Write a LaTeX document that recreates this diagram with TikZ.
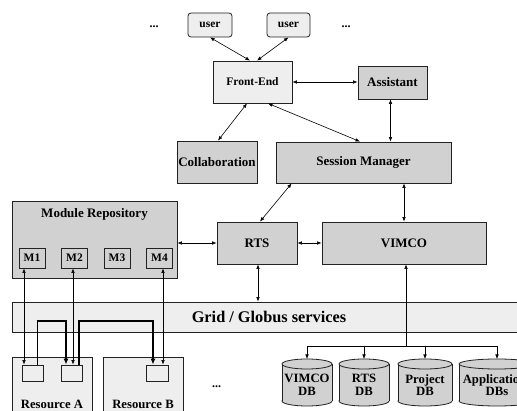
\documentclass[tikz,border=0pt]{standalone}
\usepackage{fontspec}
\setmainfont{Liberation Serif}
\usetikzlibrary{arrows.meta,calc}
\definecolor{lightfill}{HTML}{EEEEEE}
\definecolor{grayfill}{HTML}{D1D1D1}
\definecolor{edge}{HTML}{222222}
\newcommand{\fs}[1]{\fontsize{#1}{#1}\selectfont\bfseries}
\tikzset{
  boxbase/.style={draw=edge, line width=0.8pt, inner sep=0pt, align=center},
  lightbox/.style={boxbase, fill=lightfill},
  graybox/.style={boxbase, fill=grayfill},
  bigfont/.style={font=\fs{13}},
  smallfont/.style={font=\fs{11.5}},
  plaintext/.style={inner sep=0pt, align=center},
  arr/.style={{Latex[length=4.5pt,width=3.6pt]}-{Latex[length=4.5pt,width=3.6pt]}, line width=0.6pt, draw=black},
  onearr/.style={-{Latex[length=4.5pt,width=3.6pt]}, line width=0.6pt, draw=black},
  thin/.style={line width=0.6pt, draw=black},
  thickarr/.style={-{Latex[length=6pt,width=5pt]}, line width=1.6pt, draw=black},
  dbtext/.style={plaintext, font=\fs{12.7}, text depth=0pt},
}
\newcommand{\dbcyl}[3]{% cx, half width, name of top point
  \filldraw[fill=grayfill, draw=edge, line width=0.8pt] (#1,401) ellipse [x radius=#2, y radius=5];
  \fill[grayfill] (#1-#2,364) rectangle (#1+#2,401);
  \draw[edge, line width=0.8pt] (#1-#2,364) -- (#1-#2,401) (#1+#2,364) -- (#1+#2,401);
  \filldraw[fill=grayfill, draw=edge, line width=0.8pt] (#1,364) ellipse [x radius=#2, y radius=5];
  \coordinate (#3) at (#1,359);
}
\begin{document}
\begin{tikzpicture}[x=1pt,y=-1pt]
\useasboundingbox (0,0) rectangle (517,411);
\clip (0,0) rectangle (517,411);
\fill[white] (0,0) rectangle (517,411);

% users
\node[lightbox, smallfont, rounded corners=3pt, minimum width=44pt, minimum height=24pt] (u1) at (210,25) {user};
\node[lightbox, smallfont, rounded corners=3pt, minimum width=43pt, minimum height=24pt] (u2) at (288.5,25) {user};
\node[plaintext, font=\fs{12}] (d1) at (154,27) {...};
\node[plaintext, font=\fs{12}] (d2) at (346,27) {...};

% top boxes
\node[lightbox, smallfont, minimum width=79pt, minimum height=42pt] (fe) at (252.5,82) {Front-End};
\node[graybox, bigfont, minimum width=69pt, minimum height=33pt] (as) at (392.5,82.5) {Assistant};
\node[graybox, bigfont, minimum width=80pt, minimum height=42pt] (co) at (217,162) {Collaboration};
\node[graybox, bigfont, minimum width=175pt, minimum height=41pt] (sm) at (363.5,162.5) {Session Manager};

% module repository
\node[graybox, minimum width=165pt, minimum height=77pt] (mr) at (94.5,239.5) {};
\node[plaintext, bigfont] (mrt) at (94.5,214) {Module Repository};
\node[graybox, smallfont, minimum width=26pt, minimum height=20pt] (m1) at (32,258) {M1};
\node[graybox, smallfont, minimum width=26pt, minimum height=20pt] (m2) at (74.5,258) {M2};
\node[graybox, smallfont, minimum width=26pt, minimum height=20pt] (m3) at (117,258) {M3};
\node[graybox, smallfont, minimum width=26pt, minimum height=20pt] (m4) at (159.5,258) {M4};

\node[graybox, bigfont, minimum width=80pt, minimum height=42pt] (rts) at (257,243) {RTS};
\node[graybox, bigfont, minimum width=164pt, minimum height=42pt] (vi) at (404,243) {VIMCO};

% grid
\node[lightbox, font=\fs{16.3}, minimum width=514pt, minimum height=30pt] (grid) at (269,317) {Grid / Globus services};

% resources
\node[lightbox, minimum width=80pt, minimum height=70pt] (ra) at (52,392) {};
\node[lightbox, minimum width=80pt, minimum height=70pt] (rb) at (143,392) {};
\node[plaintext, font=\fs{12.7}] (rat) at (52,404) {Resource A};
\node[plaintext, font=\fs{12.7}] (rbt) at (143,404) {Resource B};
\node[lightbox, minimum width=21pt, minimum height=16pt] (a1) at (32.5,373) {};
\node[lightbox, minimum width=21pt, minimum height=16pt] (a2) at (71.5,373) {};
\node[lightbox, minimum width=22pt, minimum height=16pt] (b1) at (157,373) {};
\node[plaintext, font=\fs{12}] (d3) at (216.5,387) {...};

% databases
\dbcyl{307}{25}{t1}
\dbcyl{364}{25}{t2}
\dbcyl{425}{27}{t3}
\dbcyl{497}{38}{t4}
\node[dbtext] (db1) at (307,385) {VIMCO\\DB};
\node[dbtext] (db2) at (364,385) {RTS\\DB};
\node[dbtext] (db3) at (425,385) {Project\\DB};
\node[dbtext] (db4) at (497,385) {Applications\\DBs};

% connectors top
\draw[arr] (u1.south) -- ($(fe.north)+(-2.5,0)$);
\draw[arr] (u2.south) -- ($(fe.north)+(4.5,0)$);
\draw[arr] (fe.east) -- (fe.east -| as.west);
\draw[arr] ($(fe.south)+(-5.5,0)$) -- ($(co.north)+(1,0)$);
\draw[arr] ($(fe.south)+(15.5,0)$) -- ($(sm.north)+(-3.5,0)$);
\coordinate (asb) at ($(as.south)+(-2,0)$);
\draw[arr] (asb) -- (asb |- sm.north);
\draw[arr] ($(sm.south west)+(16,0)$) -- ($(rts.north)+(3,0)$);
\draw[arr] (vi.north) -- (vi.north |- sm.south);
\draw[arr] (rts.west) -- (rts.west -| mr.east);
\draw[arr] (rts.east) -- (vi.west);
\coordinate (rtsb) at ($(rts.south)+(1,0)$);
\draw[arr] (rtsb) -- (rtsb |- grid.north);

% VIMCO to DBs
\coordinate (br) at (406,346);
\draw[onearr] (br) -- (br |- vi.south);
\draw[thin] (t1 |- br) -- (t4 |- br);
\draw[onearr] (t1 |- br) -- (t1);
\draw[onearr] (t2 |- br) -- (t2);
\draw[onearr] (t3 |- br) -- (t3);
\draw[onearr] (t4 |- br) -- (t4);

% modules to resources
\coordinate (m1b) at ($(m1.south)+(-8,0)$);
\coordinate (m2b) at ($(m2.south)+(-1.5,0)$);
\coordinate (m4b) at ($(m4.south)+(3.5,0)$);
\draw[arr] (m1b) -- (m1b |- a1.north);
\draw[arr] (m2b) -- (m2b |- a2.north);
\draw[arr] (m4b) -- (m4b |- b1.north);

% resource to resource transfers
\coordinate (bus) at (0,321);
\coordinate (p1) at ($(a1.north)+(4.5,0)$);
\coordinate (p2) at ($(a2.north)+(-5.5,0)$);
\coordinate (p3) at ($(a2.north)+(7.5,0)$);
\coordinate (p4) at ($(b1.north)+(-4,0)$);
\draw[line width=0.8pt] (p1) -- (p1 |- bus);
\draw[thickarr] ($(p1 |- bus)+(-0.4,0)$) -- (p2 |- bus) -- (p2);
\draw[thickarr] (p3) -- (p3 |- bus) -- (p4 |- bus) -- (p4);
\end{tikzpicture}
\end{document}
